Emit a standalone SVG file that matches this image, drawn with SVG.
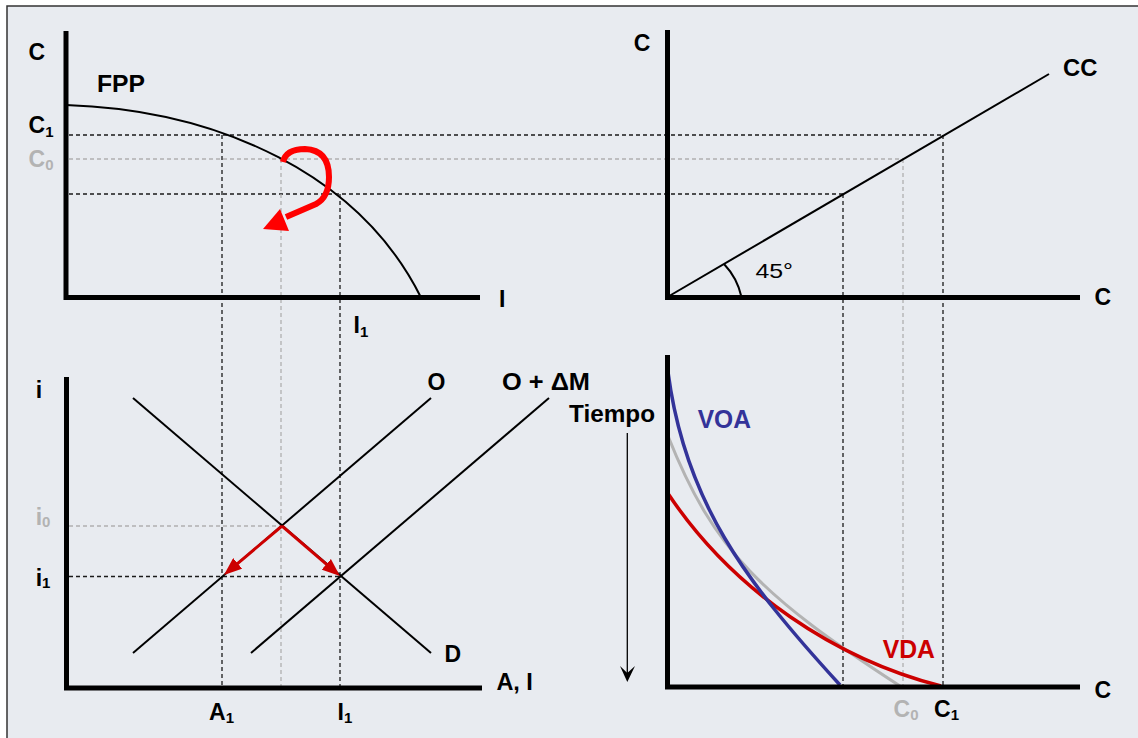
<svg xmlns="http://www.w3.org/2000/svg" width="1138" height="738" viewBox="0 0 1138 738">
<defs>
<style>
.ax{fill:none;stroke:#000;stroke-width:5;stroke-linejoin:miter;stroke-linecap:butt}
.ln{fill:none;stroke:#000;stroke-width:2}
.db{fill:none;stroke:#1a1a1a;stroke-width:1.3;stroke-dasharray:4 3}
.dg{fill:none;stroke:#b0b0b0;stroke-width:1.3;stroke-dasharray:4 3}
.t{font-family:"Liberation Sans",Arial,Helvetica,sans-serif;font-weight:bold;font-size:23px;fill:#000}
.n{font-weight:normal;font-size:21px}
.s{font-size:15px}
.g{fill:#b3b3b3}
.big{font-size:25px}
</style>
<marker id="ah" markerUnits="userSpaceOnUse" markerWidth="18" markerHeight="14" viewBox="0 0 18 14" refX="3" refY="7" orient="auto">
<path d="M0,0 L18,7 L0,14 z" fill="#cc0000"/>
</marker>
</defs>
<rect x="0" y="0" width="1138" height="738" fill="#ffffff"/>
<rect x="7" y="6" width="1140" height="740" fill="#e8ebf0" stroke="#333" stroke-width="1.5"/>

<g id="connectors">
<path class="db" d="M69,135 H943"/>
<path class="dg" d="M69,159 H903"/>
<path class="db" d="M69,194 H843"/>
<path class="db" d="M222,135 V686"/>
<path class="dg" d="M281,159 V686"/>
<path class="db" d="M340,194 V686"/>
<path class="db" d="M843,194 V685"/>
<path class="dg" d="M903,159 V685"/>
<path class="db" d="M943,135 V685"/>
<path class="dg" d="M69,526 H282"/>
<path class="db" d="M69,576.5 H340"/>
</g>

<g id="panel-fpp">
<path class="ln" d="M66,105 C220,110 360,175 421,297.5"/>
<path class="ax" d="M66,31 V297.5 H480"/>
<path d="M283,162 Q286,149 305,149 Q329,150 329,177 Q329,197 316,204 L286,217" fill="none" stroke="#ff0000" stroke-width="6"/>
<polygon points="263,229 280,209 289,231" fill="#ff0000"/>
<text class="t" x="28.6" y="60">C</text>
<text class="t" x="97" y="92" textLength="48" lengthAdjust="spacingAndGlyphs">FPP</text>
<text class="t" x="28.6" y="133">C<tspan class="s" dy="4">1</tspan></text>
<text class="t g" x="28.6" y="167">C<tspan class="s" dy="3">0</tspan></text>
<text class="t" x="499" y="307">I</text>
<text class="t" x="353.6" y="333">I<tspan class="s" dy="4">1</tspan></text>
</g>

<g id="panel-cc">
<path class="ln" d="M667.5,297 L1049,74"/>
<path class="ln" d="M724,264 A70,70 0 0 1 741.5,297" stroke-width="2"/>
<path class="ax" d="M667.5,30 V297.5 H1080"/>
<text class="t" x="633.7" y="50.7">C</text>
<text class="t" x="1063" y="76" textLength="34.4" lengthAdjust="spacingAndGlyphs">CC</text>
<text class="t" x="1094.5" y="305">C</text>
<text class="t n" x="755.4" y="278.3" textLength="37.6" lengthAdjust="spacingAndGlyphs">45°</text>
</g>

<g id="panel-market">
<path class="ln" d="M133,398 L431,653"/>
<path class="ln" d="M133,653 L431,398"/>
<path class="ln" d="M251,653 L549,398"/>
<path d="M282,526 L235.4,565.3" fill="none" stroke="#cc0000" stroke-width="3" marker-end="url(#ah)"/>
<path d="M282,526 L328.6,566.2" fill="none" stroke="#cc0000" stroke-width="3" marker-end="url(#ah)"/>
<path class="ax" d="M66.5,377 V688 H482"/>
<text class="t" x="35.7" y="398">i</text>
<text class="t g" x="35.7" y="525">i<tspan class="s" dy="2">0</tspan></text>
<text class="t" x="35.7" y="586">i<tspan class="s" dy="2">1</tspan></text>
<text class="t" x="427.5" y="390">O</text>
<text class="t" x="502" y="390" textLength="88" lengthAdjust="spacingAndGlyphs">O + ΔM</text>
<text class="t" x="444.6" y="661.7">D</text>
<text class="t" x="496.4" y="690" textLength="36.5" lengthAdjust="spacingAndGlyphs">A, I</text>
<text class="t" x="209" y="720">A<tspan class="s" dy="3">1</tspan></text>
<text class="t" x="337.5" y="720">I<tspan class="s" dy="3">1</tspan></text>
</g>

<g id="panel-time">
<path d="M668,436 C714,552 763,597 900,686" fill="none" stroke="#b3b3b3" stroke-width="3"/>
<path d="M667,492 C733,592 838,660 941,686" fill="none" stroke="#cc0000" stroke-width="3.5"/>
<path d="M668,372 C685,502 745,581 840,685" fill="none" stroke="#333399" stroke-width="3.5"/>
<path class="ax" d="M667.5,355 V687 H1080"/>
<text class="t" x="569" y="421.7" textLength="86" lengthAdjust="spacingAndGlyphs">Tiempo</text>
<path d="M627.3,433 V674" fill="none" stroke="#000" stroke-width="1.3"/>
<polygon points="620,666 627.3,682 635,666 627.3,673" fill="#000"/>
<text class="t big" x="697.7" y="428.3" fill="#333399" style="fill:#333399" textLength="53.3" lengthAdjust="spacingAndGlyphs">VOA</text>
<text class="t big" x="882.7" y="658.3" style="fill:#cc0000" textLength="52.3" lengthAdjust="spacingAndGlyphs">VDA</text>
<text class="t" x="1094.5" y="698.3">C</text>
<text class="t g" x="893.6" y="716.7">C<tspan class="s" dy="3">0</tspan></text>
<text class="t" x="934" y="716.7">C<tspan class="s" dy="3">1</tspan></text>
</g>
</svg>
